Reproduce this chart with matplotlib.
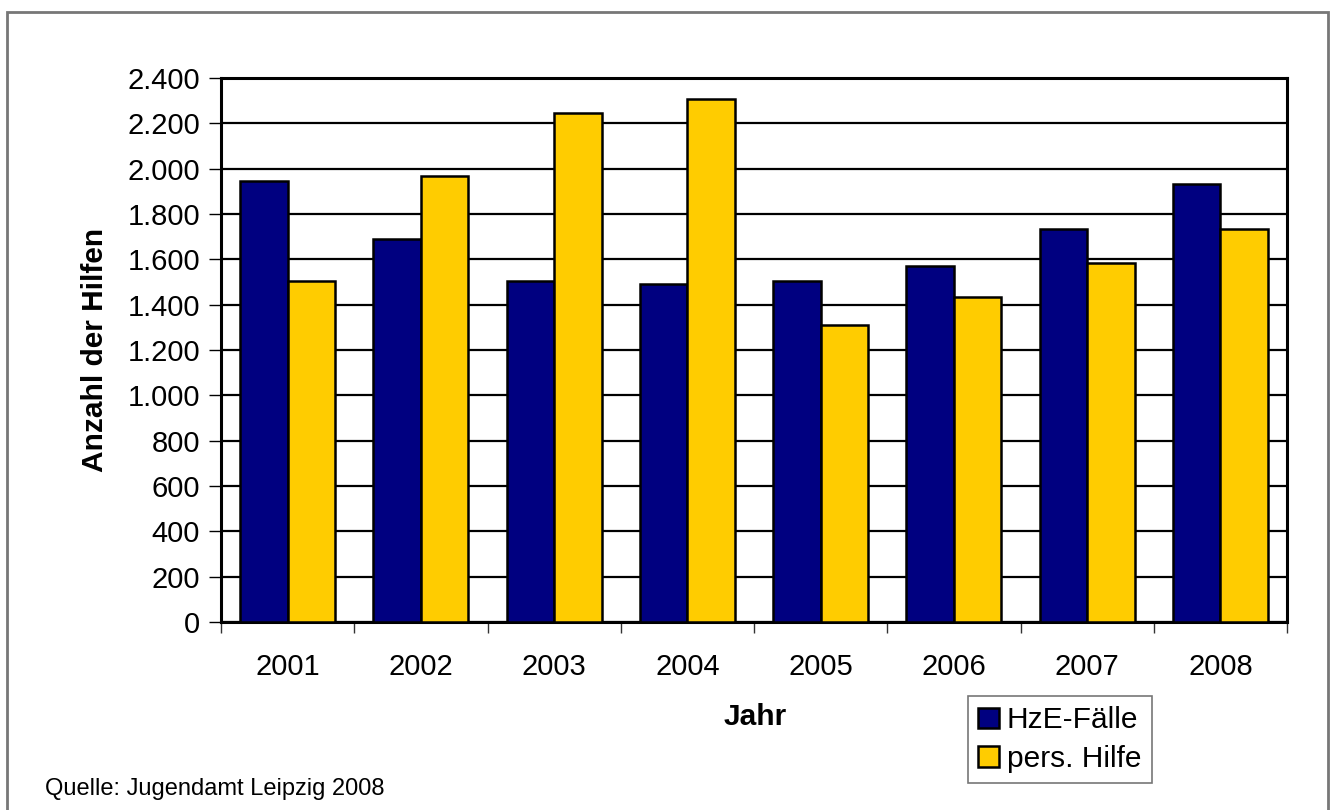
import numpy as np
import matplotlib
matplotlib.use("Agg")
import matplotlib.pyplot as plt
from matplotlib.patches import Rectangle
from matplotlib.ticker import FixedLocator, FuncFormatter

plt.rcParams['font.family'] = ['Liberation Sans', 'DejaVu Sans']

years = ["2001", "2002", "2003", "2004", "2005", "2006", "2007", "2008"]
hze_faelle = [1947, 1691, 1503, 1491, 1503, 1569, 1735, 1931]
pers_hilfe = [1503, 1969, 2246, 2309, 1309, 1432, 1584, 1734]

navy = "#000080"
gold = "#FFCC00"
fs = 21

fig = plt.figure(figsize=(13.33, 8.10), dpi=100)
ax = fig.add_axes([221 / 1333, 1 - 622 / 810, 1066 / 1333, 544 / 810])

x = np.arange(len(years))
bw = 0.357
ax.bar(x - bw / 2, hze_faelle, bw, color=navy, edgecolor="black", linewidth=1.8, zorder=3, label="HzE-Fälle")
ax.bar(x + bw / 2, pers_hilfe, bw, color=gold, edgecolor="black", linewidth=1.8, zorder=3, label="pers. Hilfe")

ax.set_xlim(-0.5, len(years) - 0.5)
ax.set_ylim(0, 2400)
ax.set_yticks(np.arange(0, 2401, 200))
ax.yaxis.set_major_formatter(FuncFormatter(lambda v, p: f"{int(v):,}".replace(",", ".")))
ax.grid(axis="y", color="black", linewidth=1.6, zorder=0)
ax.set_axisbelow(True)

# category boundaries as major ticks, year labels on minor ticks
ax.xaxis.set_major_locator(FixedLocator(np.arange(-0.5, len(years), 1.0)))
ax.xaxis.set_major_formatter(plt.NullFormatter())
ax.xaxis.set_minor_locator(FixedLocator(x))
ax.set_xticklabels(years, minor=True)
ax.tick_params(axis="x", which="major", length=8, width=1, color="#333333", direction="out")
ax.tick_params(axis="x", which="minor", length=0, pad=22, labelsize=fs)
ax.tick_params(axis="y", length=9, width=1, direction="out", pad=6, labelsize=fs)

for s in ax.spines.values():
    s.set_linewidth(2.2)
    s.set_color("black")

ax.set_ylabel("Anzahl der Hilfen", fontsize=21.5, fontweight="bold")
ax.yaxis.set_label_coords(-0.105, 0.5)
fig.text(755 / 1333, 1 - 717 / 810, "Jahr", fontsize=21.5, fontweight="bold", ha="center", va="center")

leg = fig.legend(loc="upper left", bbox_to_anchor=(968 / 1333, 1 - 696 / 810), fontsize=21.5,
                 frameon=True, fancybox=False, handlelength=0.7, handleheight=0.7,
                 handletextpad=0.25, borderpad=0.35, labelspacing=0.35, borderaxespad=0)
leg.get_frame().set_edgecolor("#555555")
leg.get_frame().set_linewidth(1.2)

fig.text(45 / 1333, 1 - 789 / 810, "Quelle: Jugendamt Leipzig 2008", fontsize=17, ha="left", va="center")

fig.patches.append(Rectangle((7 / 1333, -10 / 810), 1321 / 1333, 808 / 810, transform=fig.transFigure,
                             fill=False, edgecolor="#777777", linewidth=2))

fig.savefig("out.png", dpi=100)
